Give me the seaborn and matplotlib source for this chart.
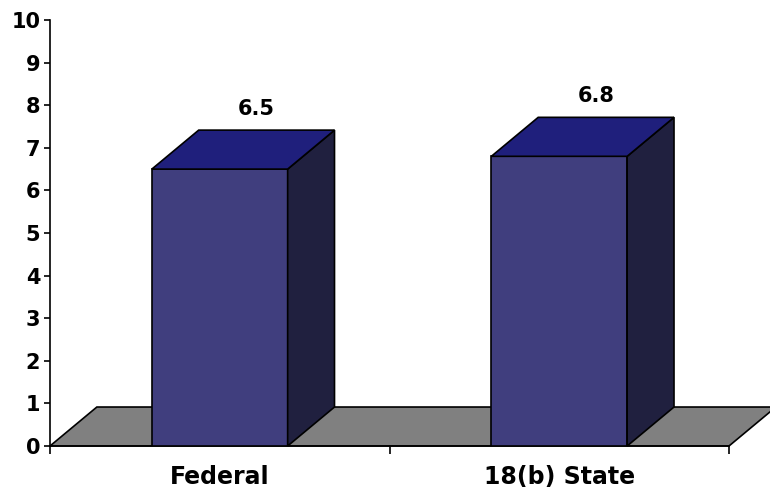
import matplotlib
matplotlib.use("Agg")
import matplotlib.pyplot as plt
import seaborn as sns
import pandas as pd
from matplotlib.patches import Polygon

categories = ["Federal", "18(b) State"]
values = [6.5, 6.8]
y_ticks = list(range(0, 11))

FRONT = "#403e7e"
TOP = "#1f1f7c"
SIDE = "#20203f"
FLOOR = "#808080"
DX, DY = 0.138, 0.915   # depth offset in data units

sns.set_theme(style="ticks")
plt.rcParams["font.family"] = ["DejaVu Sans"]
plt.rcParams["text.color"] = "black"
plt.rcParams["xtick.color"] = "black"
plt.rcParams["ytick.color"] = "black"

fig = plt.figure(figsize=(7.7, 4.94), dpi=100)
ax = fig.add_axes([50/770, 1-446/494, (729-50)/770, (446-20)/494])

df = pd.DataFrame({"cat": categories, "val": values})
sns.barplot(data=df, x="cat", y="val", color=FRONT, saturation=1, width=0.4,
            edgecolor="black", linewidth=1.2, ax=ax, zorder=3)

# floor
floor = Polygon([(-0.5, 0), (1.5, 0), (1.5 + DX, DY), (-0.5 + DX, DY)],
                closed=True, facecolor=FLOOR, edgecolor="black", linewidth=1.2,
                clip_on=False, zorder=1)
ax.add_patch(floor)

for p, v in zip(ax.patches[:len(values)], values):
    x0 = p.get_x(); w = p.get_width(); h = p.get_height()
    x1 = x0 + w
    side = Polygon([(x1, 0), (x1 + DX, DY), (x1 + DX, h + DY), (x1, h)],
                   closed=True, facecolor=SIDE, edgecolor="black", linewidth=1.2,
                   clip_on=False, zorder=3)
    top = Polygon([(x0, h), (x1, h), (x1 + DX, h + DY), (x0 + DX, h + DY)],
                  closed=True, facecolor=TOP, edgecolor="black", linewidth=1.2,
                  clip_on=False, zorder=3)
    ax.add_patch(side); ax.add_patch(top)
    ax.text(x0 + w/2 + 0.108, h + 1.42, f"{v:.1f}", ha="center", va="center",
            fontsize=15, fontweight="bold", color="black")

ax.set_xlim(-0.5, 1.5)
ax.set_ylim(0, 10)
ax.set_yticks(y_ticks)
ax.set_yticklabels([str(t) for t in y_ticks], fontsize=15, fontweight="bold", color="black")
ax.set_xticks([0, 1])
ax.set_xticklabels(categories, fontsize=17, fontweight="bold", color="black")
ax.set_xticks([-0.5, 0.5, 1.5], minor=True)
ax.tick_params(axis="x", which="major", length=0, pad=14)
ax.tick_params(axis="x", which="minor", length=6, width=1.2, color="black", direction="out")
ax.tick_params(axis="y", length=4, width=1.2, color="black", pad=3, direction="out")
ax.set_xlabel(""); ax.set_ylabel("")
for s in ["top", "right"]:
    ax.spines[s].set_visible(False)
for s in ["left", "bottom"]:
    ax.spines[s].set_color("black")
    ax.spines[s].set_linewidth(1.2)
    ax.spines[s].set_zorder(2)
ax.patch.set_alpha(0)

fig.savefig("out.png", dpi=100)
